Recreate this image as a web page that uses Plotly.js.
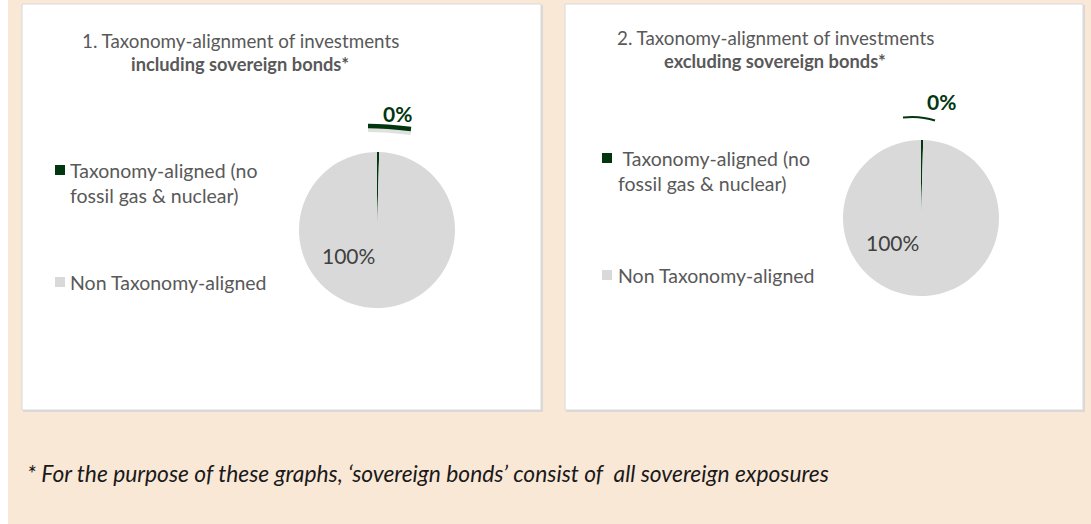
<!DOCTYPE html>
<html>
<head>
<meta charset="utf-8">
<script src="https://cdn.plot.ly/plotly-3.0.1.min.js"></script>
<style>html,body{margin:0;padding:0;background:#FFFFFF;}#chart{width:1091px;height:524px;}</style>
</head>
<body>
<div id="chart"></div>
<script>
// ---- data ----
const categories = ["Taxonomy-aligned (no fossil gas & nuclear)", "Non Taxonomy-aligned"];
const legendLines = [["Taxonomy-aligned (no", "fossil gas & nuclear)"], ["Non Taxonomy-aligned"]];
const valuesIncl = [0.45, 99.55];
const valuesExcl = [0.45, 99.55];
const titleLine1 = ["1. Taxonomy-alignment of investments", "2. Taxonomy-alignment of investments"];
const titleLine2 = ["including sovereign bonds*", "excluding sovereign bonds*"];
const footnote = "* For the purpose of these graphs, \u2018sovereign bonds\u2019 consist of  all sovereign exposures";
const colors = ["#01360F", "#D9D9D9"];

const W = 1091, H = 524;
const px = x => x / W, py = y => 1 - y / H;
const FONT = "Lato, 'Open Sans', sans-serif";
const GREY = "#595959";

function pct(vals, i) {
  const t = vals.reduce((a, b) => a + b, 0);
  return Math.round(vals[i] / t * 100) + "%";
}

const panels = [
  {vals: valuesIncl, box: [22, 4, 541, 410], cx: 377, cy: 230, r: 78, tx: 240, t1: 41, t2: 64,
   lx: 55, ly1: 170, ly2: 195, ly3: 282, textx: 68, t1lead: "",
   lab0: [397, 113], lab1: [348, 256], thick: true,
   lead: [[368, 126], [386, 126], [411, 129]]},
  {vals: valuesExcl, box: [565, 4, 1083, 410], cx: 921, cy: 218, r: 78, tx: 775, t1: 38, t2: 61,
   lx: 602, ly1: 158, ly2: 183, ly3: 275, textx: 616, t1lead: " ",
   lab0: [941, 102], lab1: [892, 242], thick: false,
   lead: [[903, 117.5], [920, 115.5], [935, 120.5]]}
];

const data = [];
const shapes = [];
const annotations = [];

// beige background area
shapes.push({type: "rect", xref: "paper", yref: "paper", layer: "below",
  x0: px(8), x1: px(1091), y0: 0, y1: 1, fillcolor: "#FAE8D7", line: {width: 0}});

function qpath(pts, dy) {
  const P = pts.map(p => [px(p[0]), py(p[1] + dy)]);
  return `M${P[0][0]},${P[0][1]} Q${P[1][0]},${P[1][1]} ${P[2][0]},${P[2][1]}`;
}

panels.forEach((p, k) => {
  data.push({
    type: "pie", labels: categories, values: p.vals, sort: false, direction: "clockwise",
    rotation: 0, marker: {colors: colors, line: {width: 0}}, textinfo: "none",
    hoverinfo: "label+percent", showlegend: false,
    domain: {x: [px(p.cx - p.r), px(p.cx + p.r)], y: [py(p.cy + p.r), py(p.cy - p.r)]}
  });
  // panel with soft shadow
  shapes.push({type: "rect", xref: "paper", yref: "paper", layer: "below",
    x0: px(p.box[0] + 1), x1: px(p.box[2] + 2), y0: py(p.box[3] + 2), y1: py(p.box[1] + 1),
    fillcolor: "#DCD8D4", line: {width: 0}});
  shapes.push({type: "rect", xref: "paper", yref: "paper", layer: "below",
    x0: px(p.box[0]), x1: px(p.box[2]), y0: py(p.box[3]), y1: py(p.box[1]),
    fillcolor: "#FFFFFF", line: {color: "#D9D9D9", width: 1}});
  // titles
  annotations.push({xref: "paper", yref: "paper", x: px(p.tx), y: py(p.t1), text: titleLine1[k],
    showarrow: false, xanchor: "center", yanchor: "middle", font: {family: FONT, size: 18.8, color: GREY}});
  annotations.push({xref: "paper", yref: "paper", x: px(p.tx), y: py(p.t2), text: "<b>" + titleLine2[k] + "</b>",
    showarrow: false, xanchor: "center", yanchor: "middle", font: {family: FONT, size: 18.3, color: GREY}});
  // legend
  shapes.push({type: "rect", xref: "paper", yref: "paper", x0: px(p.lx), x1: px(p.lx + 10),
    y0: py(p.ly1 + 5), y1: py(p.ly1 - 5), fillcolor: colors[0], line: {width: 0}});
  shapes.push({type: "rect", xref: "paper", yref: "paper", x0: px(p.lx), x1: px(p.lx + 10),
    y0: py(p.ly3 + 5), y1: py(p.ly3 - 5), fillcolor: colors[1], line: {width: 0}});
  annotations.push({xref: "paper", yref: "paper", x: px(p.textx), y: py(p.ly1), text: p.t1lead + legendLines[0][0],
    showarrow: false, xanchor: "left", yanchor: "middle", font: {family: FONT, size: 19.5, color: GREY}});
  annotations.push({xref: "paper", yref: "paper", x: px(p.textx), y: py(p.ly2), text: legendLines[0][1],
    showarrow: false, xanchor: "left", yanchor: "middle", font: {family: FONT, size: 19.5, color: GREY}});
  annotations.push({xref: "paper", yref: "paper", x: px(p.textx), y: py(p.ly3), text: legendLines[1][0],
    showarrow: false, xanchor: "left", yanchor: "middle", font: {family: FONT, size: 19.5, color: GREY}});
  // data labels
  annotations.push({xref: "paper", yref: "paper", x: px(p.lab0[0]), y: py(p.lab0[1]), text: "<b>" + pct(p.vals, 0) + "</b>",
    showarrow: false, xanchor: "center", yanchor: "middle", font: {family: FONT, size: 21, color: colors[0]}});
  annotations.push({xref: "paper", yref: "paper", x: px(p.lab1[0]), y: py(p.lab1[1]), text: pct(p.vals, 1),
    showarrow: false, xanchor: "center", yanchor: "middle", font: {family: FONT, size: 21, color: "#404040"}});
  // leader line
  if (p.thick) {
    shapes.push({type: "path", xref: "paper", yref: "paper", path: qpath(p.lead, 3),
      line: {color: "rgba(0,0,0,0.12)", width: 6}});
  }
  shapes.push({type: "path", xref: "paper", yref: "paper", path: qpath(p.lead, 0),
    line: {color: colors[0], width: p.thick ? 4.5 : 2}});
});

annotations.push({xref: "paper", yref: "paper", x: px(25), y: py(473), text: "<i>" + footnote + "</i>",
  showarrow: false, xanchor: "left", yanchor: "middle", font: {family: FONT, size: 22.8, color: "#1A1A1A"}});

const layout = {
  width: W, height: H, margin: {l: 0, r: 0, t: 0, b: 0},
  paper_bgcolor: "#FFFFFF", plot_bgcolor: "#FFFFFF",
  shapes: shapes, annotations: annotations, showlegend: false
};

Plotly.newPlot("chart", data, layout, {displayModeBar: false, staticPlot: true});
</script>
</body>
</html>
